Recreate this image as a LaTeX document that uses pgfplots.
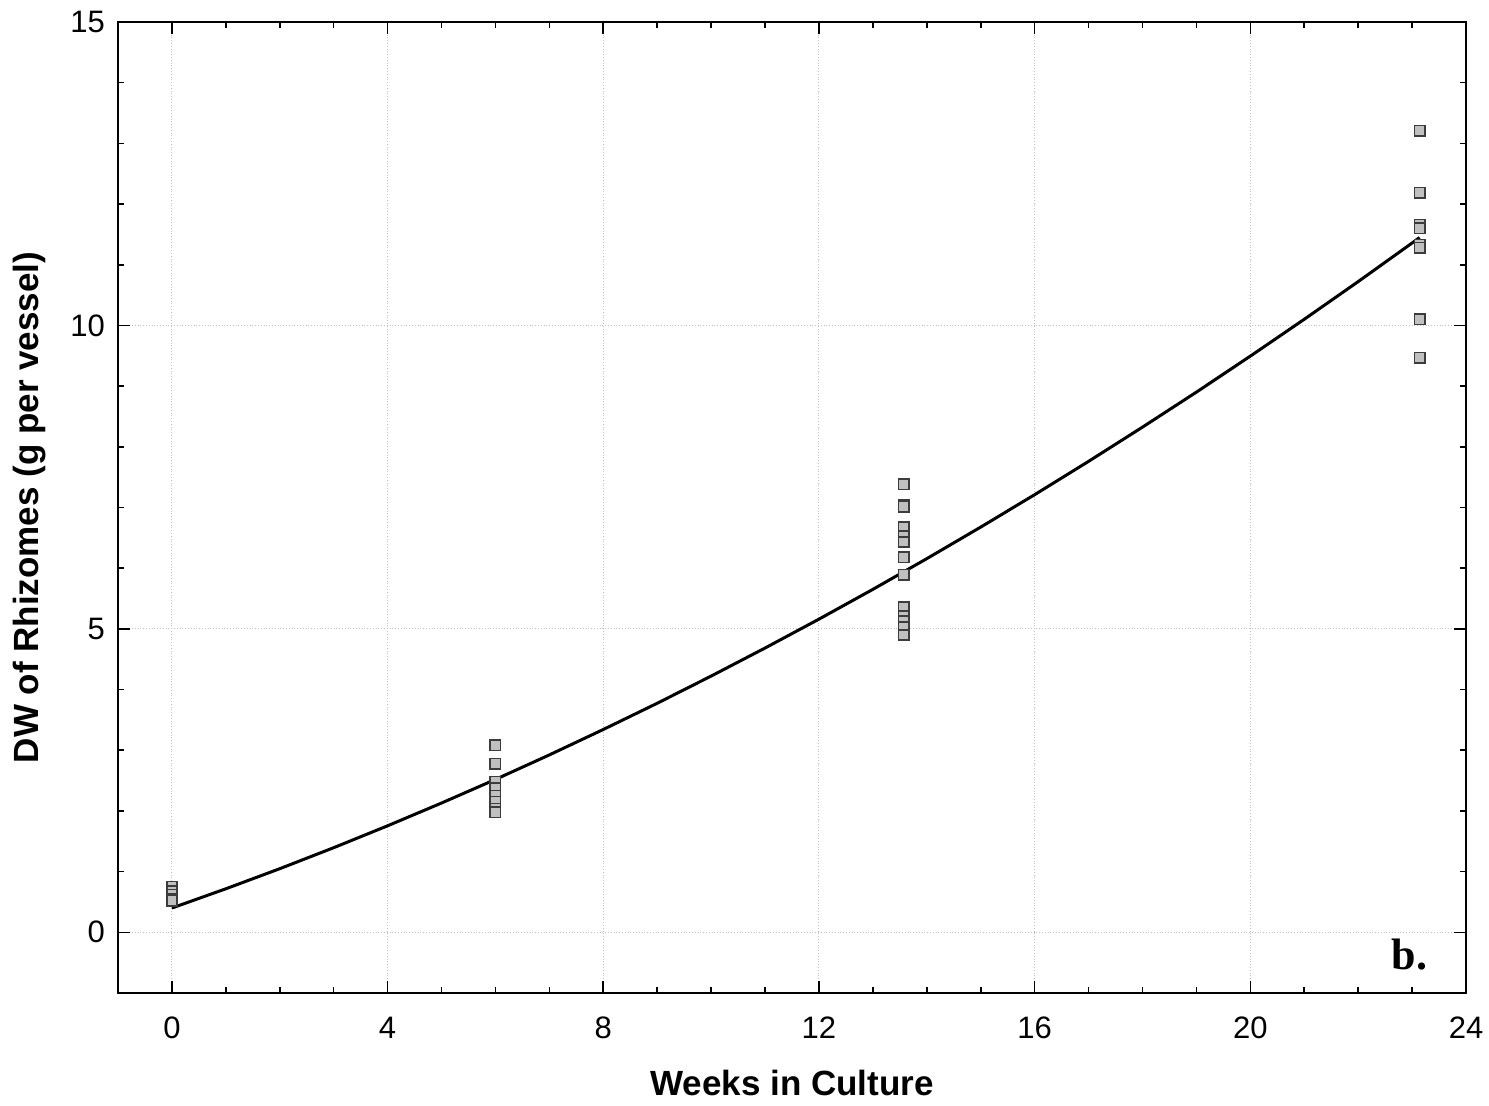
\documentclass[border=0pt]{standalone}
\usepackage{pgfplots}
\pgfplotsset{compat=1.18}
\usepackage{fontspec}
\setmainfont{Liberation Sans}
\newfontfamily\timesfont{Liberation Serif}
\definecolor{markfill}{RGB}{192,192,192}
\definecolor{markdraw}{RGB}{60,60,60}
\begin{document}
\begin{tikzpicture}
\begin{axis}[
  scale only axis,
  width=674pt, height=485.5pt,
  xmin=-1, xmax=24, ymin=-1, ymax=15,
  xtick={0,4,...,24}, ytick={0,5,10,15},
  minor x tick num=3, minor y tick num=4,
  tick align=inside,
  major tick length=6pt, minor tick length=3pt,
  tick style={black, line width=0.8pt},
  axis line style={line width=1.2pt},
  grid=major,
  major grid style={densely dotted, gray!50, line width=0.5pt},
  /pgf/number format/assume math mode=true,
  ticklabel style={font=\fontsize{15.5}{18}\selectfont},
  xticklabel style={yshift=-8.5pt},
  yticklabel style={xshift=-3pt},
  xlabel={\bfseries Weeks in Culture},
  ylabel={\bfseries DW of Rhizomes (g per vessel)},
  label style={font=\fontsize{17.5}{21}\selectfont},
  xlabel style={at={([yshift=-45pt]axis description cs:0.5,0)}, anchor=center},
  ylabel style={at={([xshift=-44pt]axis description cs:0,0.5)}, anchor=center},
  clip=false,
]
\addplot[black, line width=1.5pt, no marks] coordinates {
(0,0.40) (1,0.717) (2,1.048) (3,1.394) (4,1.755) (5,2.130) (6,2.519)
(7,2.923) (8,3.342) (9,3.774) (10,4.222) (11,4.684) (12,5.160)
(13,5.651) (14,6.157) (15,6.677) (16,7.211) (17,7.760) (18,8.324)
(19,8.901) (20,9.494) (21,10.101) (22,10.722) (23,11.358) (23.14,11.449)
};
\addplot[only marks, mark=square*, mark size=2.6pt,
  mark options={fill=markfill, draw=markdraw, line width=0.8pt}] coordinates {
(0,0.75) (0,0.68) (0,0.62) (0,0.55) (0,0.52)
(6,3.08) (6,2.78) (6,2.48) (6,2.37) (6,2.25) (6,2.15) (6,2.04) (6,1.98)
(13.57,7.38) (13.57,7.04) (13.57,7.01) (13.57,6.68) (13.57,6.53) (13.57,6.43)
(13.57,6.18) (13.57,5.89) (13.57,5.36) (13.57,5.21) (13.57,5.13) (13.57,5.03) (13.57,4.90)
(23.14,13.21) (23.14,12.19) (23.14,11.66) (23.14,11.60) (23.14,11.33) (23.14,11.28)
(23.14,10.10) (23.14,9.47)
};
\node[font=\timesfont\bfseries\fontsize{22}{26}\selectfont, anchor=base] at (axis cs:22.95,-0.62) {b.};
\end{axis}
\pgfresetboundingbox
\path ([shift={(-59pt,-56.5pt)}]current axis.south west) rectangle ([shift={(11.5pt,11pt)}]current axis.north east);
\end{tikzpicture}
\end{document}
